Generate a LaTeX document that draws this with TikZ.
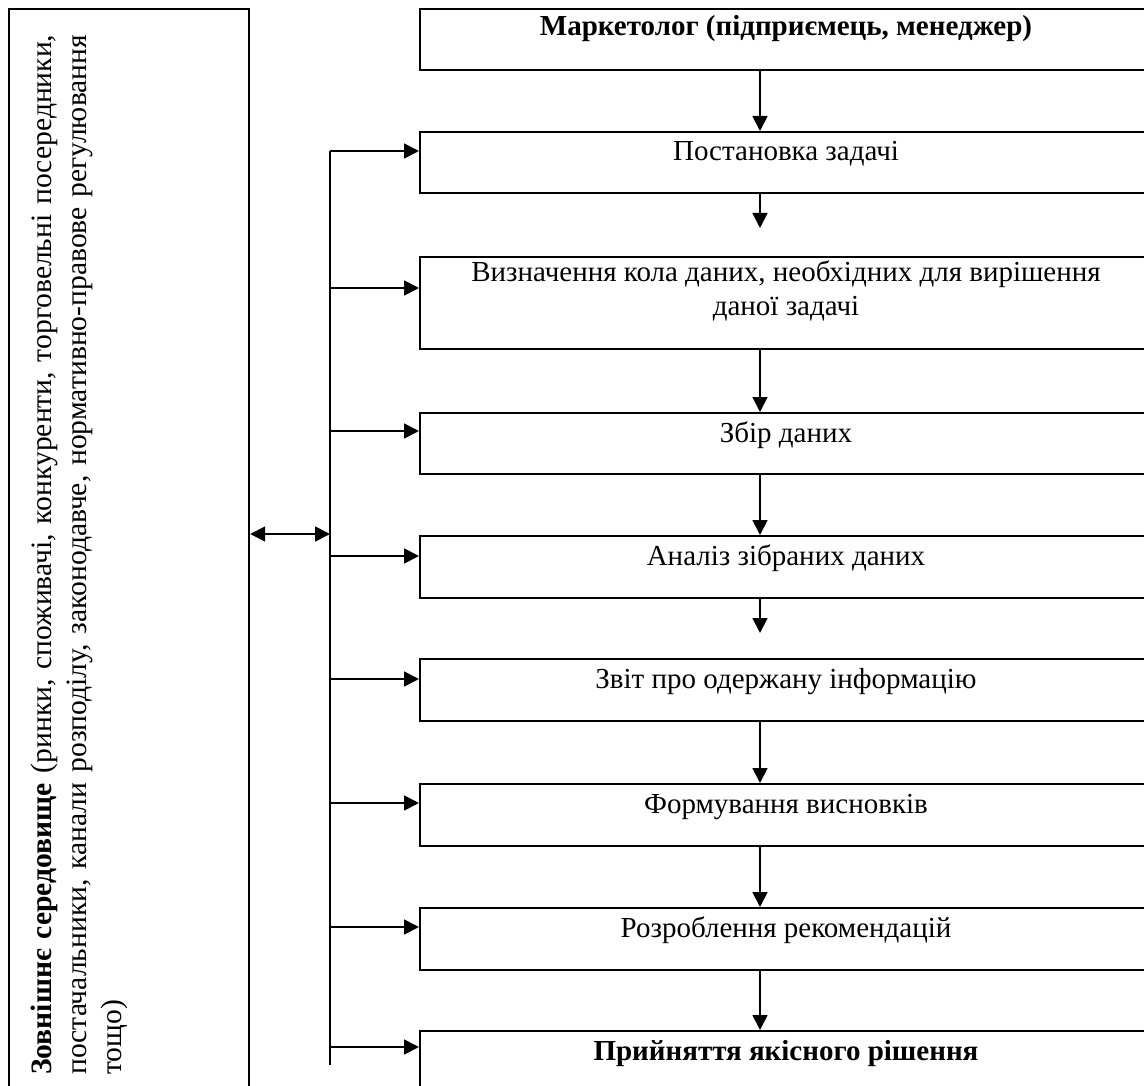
\documentclass[tikz,border=0pt]{standalone}
\usepackage{fontspec}
\setmainfont{Liberation Serif}
\usetikzlibrary{arrows.meta}
\begin{document}
\begin{tikzpicture}[x=1pt,y=-1pt,
  box/.style={draw, line width=2.2pt, anchor=north west, minimum width=734pt, inner sep=0pt},
  lbl/.style={anchor=base, font=\fontsize{29}{34}\selectfont, inner sep=0pt, align=center},
  conn/.style={line width=1.8pt},
  arr/.style={line width=1.8pt, -{Triangle[length=15pt,width=15pt]}},
  darr/.style={line width=1.8pt, {Triangle[length=15pt,width=15pt]}-{Triangle[length=15pt,width=15pt]}}]
\useasboundingbox (0,0) rectangle (1144,1086);
% left environment box
\node[box, minimum width=240pt, minimum height=1110pt] (env) at (8,8) {};
\node[rotate=90, anchor=north west, inner sep=0pt, font=\fontsize{29.6}{35}\selectfont,
      text width=1050pt, align=left] (envtext) at (31,1075)
  {\leavevmode\hbox to 1050pt{\textbf{Зовнішнє середовище} (ринки, споживачі, конкуренти, торговельні посередники,}\\
   \leavevmode\hbox to 1050pt{постачальники, канали розподілу, законодавче, нормативно-правове регулювання}\\
   тощо)};
% process boxes
\node[box, minimum height=61pt] (b1) at (419,8) {};
\node[box, minimum height=61pt] (b2) at (419,131) {};
\node[box, minimum height=92pt] (b3) at (419,256) {};
\node[box, minimum height=61pt] (b4) at (419,412) {};
\node[box, minimum height=62pt] (b5) at (419,535) {};
\node[box, minimum height=62pt] (b6) at (419,658) {};
\node[box, minimum height=62pt] (b7) at (419,783) {};
\node[box, minimum height=62pt] (b8) at (419,907) {};
\node[box, minimum height=80pt] (b9) at (419,1030) {};
% labels
\node[lbl] (t1) at (786,36) {\bfseries Маркетолог (підприємець, менеджер)};
\node[lbl] (t2) at (786,161) {Постановка задачі};
\node[lbl] (t3) at (786,316) {Визначення кола даних, необхідних для вирішення\\даної задачі};
\node[lbl] (t4) at (786,442) {Збір даних};
\node[lbl] (t5) at (786,565) {Аналіз зібраних даних};
\node[lbl] (t6) at (786,688) {Звіт про одержану інформацію};
\node[lbl] (t7) at (786,813) {Формування висновків};
\node[lbl] (t8) at (786,937) {Розроблення рекомендацій};
\node[lbl] (t9) at (786,1060) {\bfseries Прийняття якісного рішення};
% vertical flow arrows
\coordinate (ax) at (760,0);
\coordinate (e23) at (760,228);
\coordinate (e56) at (760,633);
\draw[arr] (b1.south -| ax) -- (b2.north -| ax);
\draw[arr] (b2.south -| ax) -- (e23);
\draw[arr] (b3.south -| ax) -- (b4.north -| ax);
\draw[arr] (b4.south -| ax) -- (b5.north -| ax);
\draw[arr] (b5.south -| ax) -- (e56);
\draw[arr] (b6.south -| ax) -- (b7.north -| ax);
\draw[arr] (b7.south -| ax) -- (b8.north -| ax);
\draw[arr] (b8.south -| ax) -- (b9.north -| ax);
% bus
\coordinate (busT) at (330,151);
\coordinate (busB) at (330,1065);
\draw[conn] (busT) -- (busB);
\coordinate (h2) at (330,151);
\coordinate (h3) at (330,288);
\coordinate (h4) at (330,431);
\coordinate (h5) at (330,556);
\coordinate (h6) at (330,679);
\coordinate (h7) at (330,803);
\coordinate (h8) at (330,927);
\coordinate (h9) at (330,1047);
\draw[arr] (h2) -- (h2 -| b2.west);
\draw[arr] (h3) -- (h3 -| b3.west);
\draw[arr] (h4) -- (h4 -| b4.west);
\draw[arr] (h5) -- (h5 -| b5.west);
\draw[arr] (h6) -- (h6 -| b6.west);
\draw[arr] (h7) -- (h7 -| b7.west);
\draw[arr] (h8) -- (h8 -| b8.west);
\draw[arr] (h9) -- (h9 -| b9.west);
% two-way link with environment
\coordinate (dl) at (330,534);
\draw[darr] (dl -| env.east) -- (dl);
\end{tikzpicture}
\end{document}
